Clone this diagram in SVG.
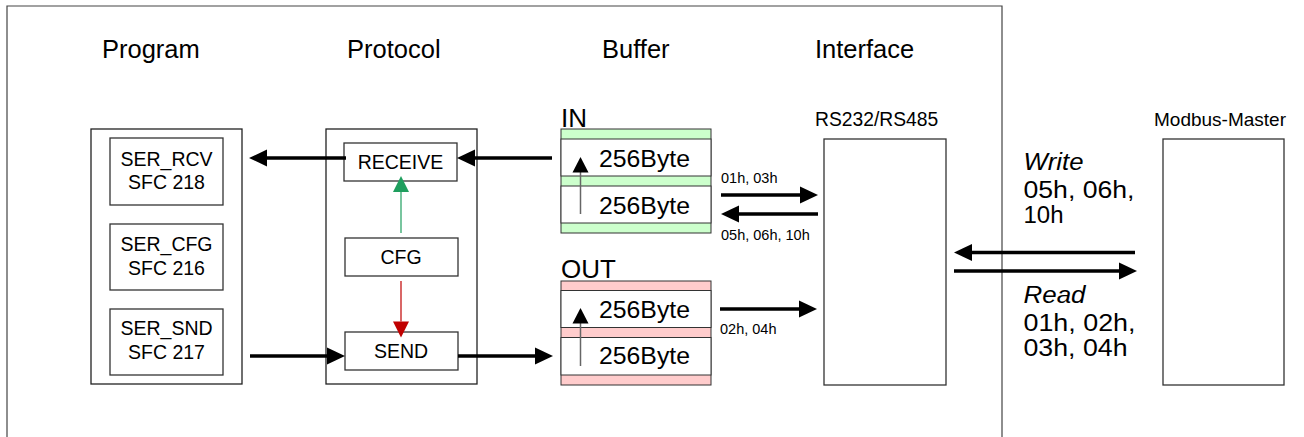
<svg xmlns="http://www.w3.org/2000/svg" width="1304" height="437" viewBox="0 0 1304 437">
<defs>
<style>
text{font-family:"Liberation Sans",Arial,sans-serif;fill:#000}
.title{font-size:25.5px}
.node{font-size:19.5px;text-anchor:middle}
.box{fill:#fff;stroke:#333;stroke-width:1.3}
.cont{fill:#fff;stroke:#222;stroke-width:1.3}
.buf{font-size:24.8px}
.code{font-size:14.5px}
.big{font-size:23px}
.thick{stroke:#000;stroke-width:3.5;fill:none}
.thin{stroke:#666;stroke-width:1.5;fill:none}
.green{fill:#ccffcc;stroke:#333;stroke-width:1}
.pink{fill:#ffcccc;stroke:#333;stroke-width:1}
.row{fill:#fff;stroke:#333;stroke-width:1}
</style>
<marker id="ah" markerUnits="userSpaceOnUse" markerWidth="18" markerHeight="17" refX="0" refY="8.5" orient="auto" overflow="visible">
<path d="M0,0 L18,8.5 L0,17 z" fill="#000"/>
</marker>
<marker id="ahg" markerUnits="userSpaceOnUse" markerWidth="16" markerHeight="16" refX="0" refY="8" orient="auto" overflow="visible">
<path d="M0,0 L16,8 L0,16 z" fill="#1f9e5e"/>
</marker>
<marker id="ahr" markerUnits="userSpaceOnUse" markerWidth="16" markerHeight="16" refX="0" refY="8" orient="auto" overflow="visible">
<path d="M0,0 L16,8 L0,16 z" fill="#c00000"/>
</marker>
</defs>
<rect width="1304" height="437" fill="#fff"/>
<path d="M7,437 V6 H1002 V437" fill="none" stroke="#444" stroke-width="1.2"/>

<g id="titles">
<text class="title" x="102" y="58">Program</text>
<text class="title" x="347" y="58">Protocol</text>
<text class="title" x="602" y="58">Buffer</text>
<text class="title" x="815" y="58">Interface</text>
</g>

<g id="program">
<rect class="cont" x="91" y="129" width="151" height="255"/>
</g>
<g id="ser_rcv">
<rect class="box" x="110" y="138" width="113" height="67"/>
<text class="node" x="166.5" y="166">SER_RCV</text>
<text class="node" x="166.5" y="189">SFC 218</text>
</g>
<g id="ser_cfg">
<rect class="box" x="110" y="224" width="113" height="66"/>
<text class="node" x="166.5" y="251">SER_CFG</text>
<text class="node" x="166.5" y="275">SFC 216</text>
</g>
<g id="ser_snd">
<rect class="box" x="110" y="309" width="113" height="66"/>
<text class="node" x="166.5" y="335">SER_SND</text>
<text class="node" x="166.5" y="359">SFC 217</text>
</g>

<g id="protocol">
<rect class="cont" x="326" y="129" width="151" height="255"/>
</g>
<g id="receive">
<rect class="box" x="344" y="143" width="113" height="38"/>
<text class="node" x="400.5" y="169">RECEIVE</text>
</g>
<g id="cfg">
<rect class="box" x="345" y="238" width="113" height="38"/>
<text class="node" x="401" y="263.5">CFG</text>
</g>
<g id="send">
<rect class="box" x="345" y="332" width="113" height="38"/>
<text class="node" x="401" y="358">SEND</text>
</g>

<g id="buffer_in">
<text x="561" y="127" style="font-size:26px">IN</text>
<rect class="green" x="561" y="129" width="150" height="104"/>
<rect class="row" x="561" y="139" width="150" height="37"/>
<rect class="row" x="561" y="186" width="150" height="37"/>
<text class="buf" x="599" y="167">256Byte</text>
<text class="buf" x="599" y="214">256Byte</text>
<path class="thin" d="M580.5,214 V172"/>
<path d="M572.5,172.5 L580.5,157 L588.5,172.5 z" fill="#000"/>
</g>

<g id="buffer_out">
<text x="561" y="278" style="font-size:26px">OUT</text>
<rect class="pink" x="561" y="281" width="150" height="104"/>
<rect class="row" x="561" y="290.5" width="150" height="37"/>
<rect class="row" x="561" y="337.5" width="150" height="37.5"/>
<text class="buf" x="599" y="318">256Byte</text>
<text class="buf" x="599" y="364">256Byte</text>
<path class="thin" d="M580.5,366 V323"/>
<path d="M572.5,323.5 L580.5,308 L588.5,323.5 z" fill="#000"/>
</g>

<g id="interface">
<text x="815" y="126" style="font-size:19.3px">RS232/RS485</text>
<rect class="box" x="824" y="139" width="122" height="246"/>
</g>

<g id="modbus_master">
<text x="1154" y="126" style="font-size:19px">Modbus-Master</text>
<rect class="box" x="1163" y="139" width="121" height="246"/>
</g>

<g id="connectors">
<path class="thick" d="M346,158 H267" marker-end="url(#ah)"/>
<path class="thick" d="M552,158 H475" marker-end="url(#ah)"/>
<path class="thick" d="M250,356 H327" marker-end="url(#ah)"/>
<path class="thick" d="M458,356 H535" marker-end="url(#ah)"/>
<path class="thick" d="M721,195 H800" marker-end="url(#ah)"/>
<path class="thick" d="M818,214 H739" marker-end="url(#ah)"/>
<path class="thick" d="M720,309 H799" marker-end="url(#ah)"/>
<path class="thick" d="M1135,252.5 H972" marker-end="url(#ah)"/>
<path class="thick" d="M954,271 H1119" marker-end="url(#ah)"/>
<path d="M401,233 V192" stroke="#1f9e5e" stroke-width="1.2" fill="none" marker-end="url(#ahg)"/>
<path d="M401,281 V321.5" stroke="#c00000" stroke-width="1.2" fill="none" marker-end="url(#ahr)"/>
<text class="code" x="721" y="183">01h, 03h</text>
<text class="code" x="721" y="239.5">05h, 06h, 10h</text>
<text class="code" x="720" y="334">02h, 04h</text>
<text class="big" x="1023.5" y="170" font-style="italic" textLength="60" lengthAdjust="spacingAndGlyphs">Write</text>
<text class="big" x="1023.5" y="197.5" textLength="111" lengthAdjust="spacingAndGlyphs">05h, 06h,</text>
<text class="big" x="1023.5" y="222.5" textLength="40" lengthAdjust="spacingAndGlyphs">10h</text>
<text class="big" x="1023.5" y="303" font-style="italic" textLength="62" lengthAdjust="spacingAndGlyphs">Read</text>
<text class="big" x="1023.5" y="331" textLength="112" lengthAdjust="spacingAndGlyphs">01h, 02h,</text>
<text class="big" x="1023.5" y="356" textLength="104" lengthAdjust="spacingAndGlyphs">03h, 04h</text>
</g>
</svg>
